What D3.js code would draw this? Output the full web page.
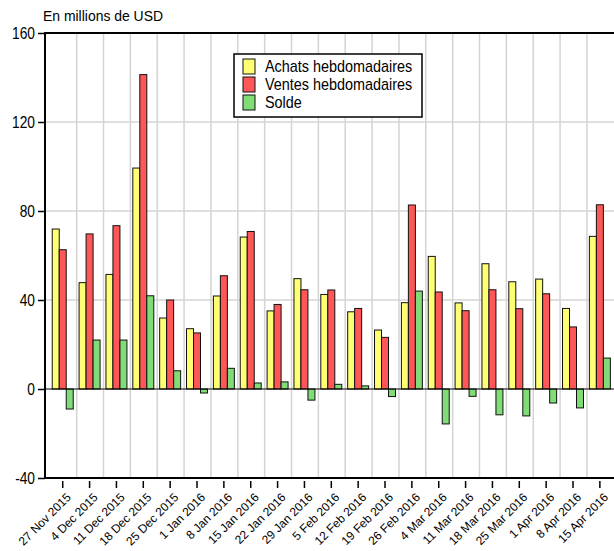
<!DOCTYPE html>
<html lang="fr">
<head>
    <meta charset="utf-8">
    <style>
        body { margin: 0; background: #fff; }
        svg text { font-family: "Liberation Sans", Arial, sans-serif; fill: #000; }
        .grid line { stroke: #d4d4d4; stroke-width: 1.5px; }
        .bar { stroke: #111; stroke-width: 1px; }
    </style>
    <script src="https://d3js.org/d3.v7.min.js"></script>
</head>
<body>
<script>
    var width = 614, height = 551;

    // weekly data, millions of USD
    var weeks = ["27 Nov 2015", "4 Dec 2015", "11 Dec 2015", "18 Dec 2015", "25 Dec 2015",
                 "1 Jan 2016", "8 Jan 2016", "15 Jan 2016", "22 Jan 2016", "29 Jan 2016",
                 "5 Feb 2016", "12 Feb 2016", "19 Feb 2016", "26 Feb 2016", "4 Mar 2016",
                 "11 Mar 2016", "18 Mar 2016", "25 Mar 2016", "1 Apr 2016", "8 Apr 2016",
                 "15 Apr 2016"];
    var achats = [71.9, 47.8, 51.5, 99.3, 31.9, 27.1, 41.8, 68.3, 35.1, 49.6, 42.5,
                  34.7, 26.5, 38.8, 59.6, 38.7, 56.3, 48.2, 49.4, 36.2, 68.6];
    var ventes = [62.6, 69.7, 73.4, 141.3, 40.0, 25.2, 50.9, 70.8, 38.0, 44.6, 44.5,
                  36.2, 23.2, 82.7, 43.6, 35.2, 44.6, 36.1, 42.8, 27.9, 82.8];
    var solde = [-9.0, 22.0, 22.0, 41.9, 8.2, -1.8, 9.3, 2.7, 3.2, -5.0, 2.1,
                 1.4, -3.4, 44.0, -15.7, -3.3, -11.6, -12.1, -6.3, -8.5, 13.9];
    var seriesNames = ["Achats hebdomadaires", "Ventes hebdomadaires", "Solde"];
    var colors = ["#ffff73", "#ff5757", "#7fdc77"];
    var yTicks = [-40, 0, 40, 80, 120, 160];

    var mLeft = 45, mTop = 33, mBottom = 478;

    var svg = d3.select("body")
                .append("svg")
                .attr("width", width)
                .attr("height", height);

    var xscale = d3.scaleBand()
                   .domain(weeks)
                   .range([49.3, 613.3])
                   .padding(0);

    var sub = d3.scaleBand()
                .domain(seriesNames)
                .range([0, xscale.bandwidth()])
                .paddingInner(0)
                .paddingOuter(0.42);

    var yscale = d3.scaleLinear()
                   .domain([-40, 160])
                   .range([mBottom, mTop]);

    // grid
    var grid = svg.append("g").attr("class", "grid");
    grid.selectAll(".gh")
        .data([40, 80, 120])
        .enter().append("line")
        .attr("x1", mLeft).attr("x2", width)
        .attr("y1", function(d) { return yscale(d); })
        .attr("y2", function(d) { return yscale(d); });
    grid.selectAll(".gv")
        .data(weeks.slice(1))
        .enter().append("line")
        .attr("x1", function(d) { return xscale(d) + 0.5; })
        .attr("x2", function(d) { return xscale(d) + 0.5; })
        .attr("y1", mTop).attr("y2", mBottom);

    // bars
    var table = weeks.map(function(w, i) {
        return { week: w, vals: [achats[i], ventes[i], solde[i]] };
    });

    var groups = svg.selectAll(".grp")
                    .data(table)
                    .enter().append("g")
                    .attr("transform", function(d) { return "translate(" + xscale(d.week) + ",0)"; });

    groups.selectAll("rect")
          .data(function(d) { return d.vals.map(function(v, k) { return { k: k, v: v }; }); })
          .enter().append("rect")
          .attr("class", "bar")
          .attr("x", function(d) { return sub(seriesNames[d.k]); })
          .attr("width", sub.bandwidth())
          .attr("y", function(d) { return yscale(Math.max(0, d.v)); })
          .attr("height", function(d) { return Math.abs(yscale(d.v) - yscale(0)); })
          .attr("fill", function(d) { return colors[d.k]; });

    // zero line
    svg.append("line")
       .attr("x1", mLeft).attr("x2", width)
       .attr("y1", yscale(0)).attr("y2", yscale(0))
       .attr("stroke", "#000").attr("stroke-width", 1.2);

    // frame (left, top, bottom)
    svg.append("path")
       .attr("d", "M" + width + "," + mTop + "H" + mLeft + "V" + mBottom + "H" + width)
       .attr("fill", "none").attr("stroke", "#000").attr("stroke-width", 2);

    // y axis
    var y_axis = d3.axisLeft(yscale)
                   .tickValues(yTicks)
                   .tickFormat(function(d) { return String(d); })
                   .tickSize(7)
                   .tickPadding(3);
    var gy = svg.append("g")
                .attr("transform", "translate(" + mLeft + ",0)")
                .call(y_axis);
    gy.select(".domain").remove();
    gy.selectAll(".tick line").attr("stroke", "#000").attr("stroke-width", 1.5);
    gy.selectAll(".tick text")
      .attr("font-size", 16)
      .attr("font-family", null)
      .attr("transform", "scale(0.86,1)")
      .attr("x", -10 / 0.86);

    // x axis
    var x_axis = d3.axisBottom(xscale)
                   .tickSize(7)
                   .tickSizeOuter(0);
    var gx = svg.append("g")
                .attr("transform", "translate(0," + (mBottom + 3) + ")")
                .call(x_axis);
    gx.select(".domain").remove();
    gx.selectAll(".tick line").attr("stroke", "#000").attr("stroke-width", 1.5);
    gx.selectAll(".tick text")
      .attr("font-size", 12)
      .attr("font-family", null)
      .attr("text-anchor", "end")
      .attr("dy", null)
      .attr("y", 0)
      .attr("transform", "translate(9,17) rotate(-45)");

    // unit label
    svg.append("text")
       .attr("y", 21)
       .attr("font-size", 15)
       .attr("transform", "scale(0.93,1)")
       .attr("x", 43 / 0.93)
       .text("En millions de USD");

    // legend
    var legend = svg.append("g").attr("transform", "translate(234,54)");
    legend.append("rect")
          .attr("width", 188).attr("height", 63)
          .attr("fill", "#fff").attr("stroke", "#000").attr("stroke-width", 1.5);
    var items = legend.selectAll(".item")
                      .data(seriesNames)
                      .enter().append("g")
                      .attr("transform", function(d, i) { return "translate(9," + (5 + i * 18) + ")"; });
    items.append("rect")
         .attr("width", 12).attr("height", 15)
         .attr("fill", function(d, i) { return colors[i]; })
         .attr("stroke", "#111");
    items.append("text")
         .attr("x", 22 / 0.9).attr("y", 13)
         .attr("font-size", 16)
         .attr("transform", "scale(0.9,1)")
         .text(function(d) { return d; });
</script>
</body>
</html>
